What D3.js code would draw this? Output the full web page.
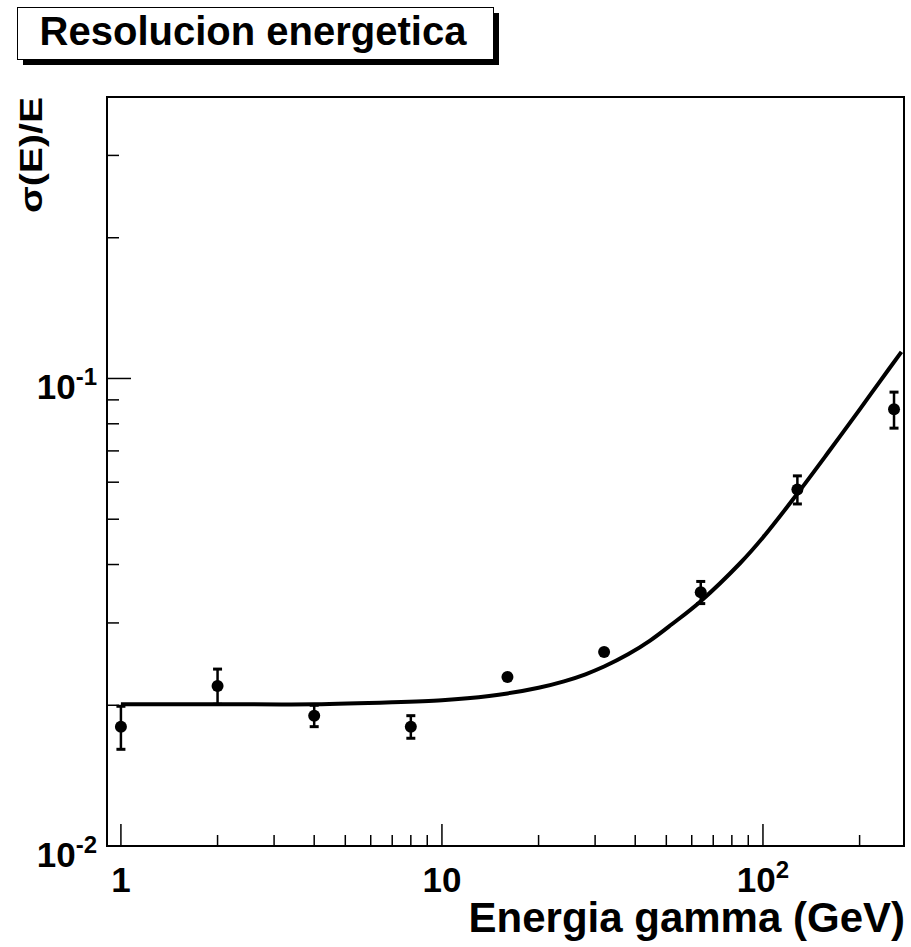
<!DOCTYPE html>
<html>
<head>
<meta charset="utf-8">
<script src="https://cdn.jsdelivr.net/npm/d3@7"></script>
<style>
  html, body { margin: 0; padding: 0; background: #fff; }
  svg { display: block; font-family: "Liberation Sans", Arial, Helvetica, sans-serif; font-weight: bold; }
</style>
</head>
<body>
<div id="chart"></div>
<script>
// measured points (E in GeV, sigma(E)/E)
const energies = [1, 2, 4, 8, 16, 32, 64, 128, 256];
const resolution = [0.0180, 0.0220, 0.0190, 0.0180, 0.0230, 0.0260, 0.0349, 0.0579, 0.0859];
const errors = [0.0019, 0.0019, 0.0010, 0.0010, 0.0002, 0.0003, 0.0019, 0.0040, 0.0076];

// fitted curve
const fitEnergies = [1, 2, 4, 7, 10, 12, 16, 20, 24, 28, 32, 38, 44.5, 52, 64, 85, 100, 128, 160, 200, 230, 270];
const fitValues = [0.0201, 0.0201, 0.0201, 0.0203, 0.0205, 0.0207, 0.0212, 0.0218, 0.0225, 0.0233, 0.0242, 0.0257, 0.0275, 0.0298, 0.0334, 0.0403, 0.0457, 0.0567, 0.0696, 0.0858, 0.0980, 0.1140];

const xMajorTicks = [1, 10, 100];
const xMinorTicks = [2, 3, 4, 5, 6, 7, 8, 9, 20, 30, 40, 50, 60, 70, 80, 90, 200];
const xTickLabels = [["1", ""], ["10", ""], ["10", "2"]];
const yMajorTicks = [0.01, 0.1];
const yMinorTicks = [0.02, 0.03, 0.04, 0.05, 0.06, 0.07, 0.08, 0.09, 0.2, 0.3];
const yTickLabels = [["10", "-2"], ["10", "-1"]];

const titleText = "Resolucion energetica";
const xTitle = "Energia gamma (GeV)";
const yTitle = "σ(E)/E";

const width = 911;
const height = 947;
const frame = { left: 107, right: 904, top: 97, bottom: 846 };

const svg = d3
  .select("#chart")
  .append("svg")
  .attr("width", width)
  .attr("height", height)
  .attr("viewBox", `0 0 ${width} ${height}`);

const xScale = d3.scaleLog().domain([0.905, 275]).range([frame.left, frame.right]);
const yScale = d3.scaleLog().domain([0.01, 0.4]).range([frame.bottom, frame.top]);

// frame
svg
  .append("rect")
  .attr("x", frame.left)
  .attr("y", frame.top)
  .attr("width", frame.right - frame.left)
  .attr("height", frame.bottom - frame.top)
  .attr("fill", "none")
  .attr("stroke", "#000")
  .attr("stroke-width", 2);

// x ticks
const xAxis = svg.append("g").attr("stroke", "#000").attr("stroke-width", 1.5);
xAxis
  .selectAll("line.major")
  .data(xMajorTicks)
  .enter()
  .append("line")
  .attr("x1", (d) => xScale(d))
  .attr("x2", (d) => xScale(d))
  .attr("y1", frame.bottom)
  .attr("y2", frame.bottom - 22);
xAxis
  .selectAll("line.minor")
  .data(xMinorTicks)
  .enter()
  .append("line")
  .attr("x1", (d) => xScale(d))
  .attr("x2", (d) => xScale(d))
  .attr("y1", frame.bottom)
  .attr("y2", frame.bottom - 11);

// y ticks
const yAxis = svg.append("g").attr("stroke", "#000").attr("stroke-width", 1.5);
yAxis
  .selectAll("line.major")
  .data(yMajorTicks)
  .enter()
  .append("line")
  .attr("x1", frame.left)
  .attr("x2", frame.left + 24)
  .attr("y1", (d) => yScale(d))
  .attr("y2", (d) => yScale(d));
yAxis
  .selectAll("line.minor")
  .data(yMinorTicks)
  .enter()
  .append("line")
  .attr("x1", frame.left)
  .attr("x2", frame.left + 12)
  .attr("y1", (d) => yScale(d))
  .attr("y2", (d) => yScale(d));

// tick labels
function powerLabel(sel, parts) {
  sel.append("tspan").text(parts[0]);
  if (parts[1]) {
    sel.append("tspan").attr("font-size", 24).attr("dy", -14).text(parts[1]);
  }
}

xMajorTicks.forEach((tick, i) => {
  const label = svg
    .append("text")
    .attr("x", xScale(tick))
    .attr("y", frame.bottom + 46)
    .attr("text-anchor", "middle")
    .attr("font-size", 35);
  powerLabel(label, xTickLabels[i]);
});

yMajorTicks.forEach((tick, i) => {
  const label = svg
    .append("text")
    .attr("x", 97)
    .attr("y", yScale(tick) + 21)
    .attr("text-anchor", "end")
    .attr("font-size", 35);
  powerLabel(label, yTickLabels[i]);
});

// axis titles
svg
  .append("text")
  .attr("x", 905)
  .attr("y", 932)
  .attr("text-anchor", "end")
  .attr("font-size", 42)
  .text(xTitle);

svg
  .append("text")
  .attr("transform", `translate(42, ${frame.top}) rotate(-90)`)
  .attr("text-anchor", "end")
  .attr("font-size", 31)
  .attr("textLength", 116)
  .attr("lengthAdjust", "spacingAndGlyphs")
  .text(yTitle);

// fit curve
const line = d3
  .line()
  .x((d) => xScale(d[0]))
  .y((d) => yScale(d[1]))
  .curve(d3.curveCatmullRom.alpha(0.5));

svg
  .append("path")
  .datum(fitEnergies.map((e, i) => [e, fitValues[i]]))
  .attr("fill", "none")
  .attr("stroke", "#000")
  .attr("stroke-width", 4)
  .attr("d", line);

// error bars
const points = energies.map((e, i) => ({ e, v: resolution[i], err: errors[i] }));
const bars = svg.append("g").attr("stroke", "#000").attr("stroke-width", 2.5);
bars
  .selectAll("line.bar")
  .data(points)
  .enter()
  .append("line")
  .attr("x1", (d) => xScale(d.e))
  .attr("x2", (d) => xScale(d.e))
  .attr("y1", (d) => yScale(d.v + d.err))
  .attr("y2", (d) => yScale(d.v - d.err));
["high", "low"].forEach((side) => {
  bars
    .selectAll(`line.cap-${side}`)
    .data(points.filter((d) => d.err > 0.0005))
    .enter()
    .append("line")
    .attr("x1", (d) => xScale(d.e) - 4.5)
    .attr("x2", (d) => xScale(d.e) + 4.5)
    .attr("y1", (d) => yScale(side === "high" ? d.v + d.err : d.v - d.err))
    .attr("y2", (d) => yScale(side === "high" ? d.v + d.err : d.v - d.err))
    .attr("stroke-width", 3);
});

// markers
svg
  .append("g")
  .selectAll("circle")
  .data(points)
  .enter()
  .append("circle")
  .attr("cx", (d) => xScale(d.e))
  .attr("cy", (d) => yScale(d.v))
  .attr("r", 6)
  .attr("fill", "#000");

// title box with shadow
svg
  .append("rect")
  .attr("x", 23)
  .attr("y", 13)
  .attr("width", 476)
  .attr("height", 52)
  .attr("fill", "#000");
svg
  .append("rect")
  .attr("x", 17.5)
  .attr("y", 7.5)
  .attr("width", 476)
  .attr("height", 52)
  .attr("fill", "#fff")
  .attr("stroke", "#000")
  .attr("stroke-width", 1);
svg
  .append("text")
  .attr("x", 253)
  .attr("y", 45)
  .attr("text-anchor", "middle")
  .attr("font-size", 40)
  .text(titleText);
</script>
</body>
</html>
